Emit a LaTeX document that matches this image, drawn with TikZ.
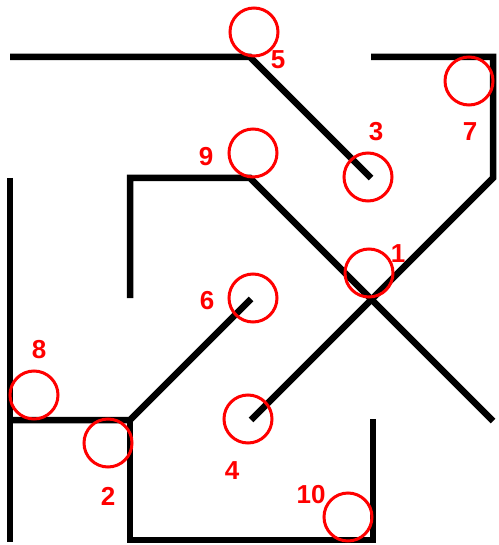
\documentclass[tikz,border=0pt]{standalone}
\usepackage{fontspec}
\setmainfont{Liberation Sans}
\begin{document}
\begin{tikzpicture}[x=1pt,y=-1pt,
  wall/.style={line width=6.5pt,black,line join=miter},
  ring/.style={circle,draw=red,line width=3pt,minimum size=48pt,inner sep=0pt},
  num/.style={text=red,font=\fontsize{26}{26}\selectfont\bfseries,inner sep=0pt}]
\useasboundingbox (0,0) rectangle (498,545);
% corner coordinates
\coordinate (a1) at (10,57);
\coordinate (a2) at (250,57);
\coordinate (a3) at (371,178);
\coordinate (b1) at (371,57);
\coordinate (b2) at (493,57);
\coordinate (b3) at (493,178);
\coordinate (b4) at (251,420);
\coordinate (c1) at (130,298);
\coordinate (c2) at (130,178);
\coordinate (c3) at (250,178);
\coordinate (c4) at (493,421);
\coordinate (d1) at (10,178);
\coordinate (d2) at (10,542);
\coordinate (e1) at (10,420);
\coordinate (e2) at (130,420);
\coordinate (e3) at (251,299);
\coordinate (f1) at (130,540);
\coordinate (f2) at (373,540);
\coordinate (f3) at (373,419);
% walls
\draw[wall] (a1) -- (a2) -- (a3);
\draw[wall] (b1) -- (b2) -- (b3) -- (b4);
\draw[wall] (c1) -- (c2) -- (c3) -- (c4);
\draw[wall] (d1) -- (d2);
\draw[wall] (e1) -- (e2) -- (e3);
\draw[wall] (e2) -- (f1) -- (f2) -- (f3);
% rings
\node[ring] (r1) at (369,273) {};
\node[ring] (r2) at (108,443) {};
\node[ring] (r3) at (368,177) {};
\node[ring] (r4) at (248,419) {};
\node[ring] (r5) at (254,32) {};
\node[ring] (r6) at (253,298) {};
\node[ring] (r7) at (469,81) {};
\node[ring] (r8) at (34,395) {};
\node[ring] (r9) at (253,153) {};
\node[ring] (r10) at (348,517) {};
% labels
\node[num] (n1) at (398,254) {1};
\node[num] (n2) at (108,496) {2};
\node[num] (n3) at (376,132) {3};
\node[num] (n4) at (232,471) {4};
\node[num] (n5) at (278,60) {5};
\node[num] (n6) at (207,301) {6};
\node[num] (n7) at (470,132) {7};
\node[num] (n8) at (39,350) {8};
\node[num] (n9) at (206,157) {9};
\node[num] (n10) at (311,495) {10};
\end{tikzpicture}
\end{document}
